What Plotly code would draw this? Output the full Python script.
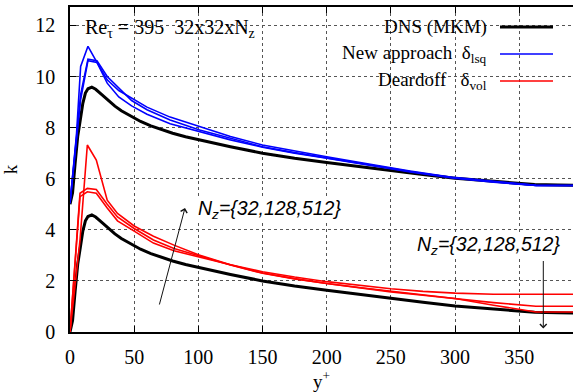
import plotly.graph_objects as go

# ---------------- data ----------------
K_OFFSET = 5.0  # upper family of curves is shifted up by 5

dns_yp = [0, 2, 4, 6, 8, 10, 12, 14, 17, 20, 25, 30, 35, 40, 47, 55, 63, 70, 80, 90,
          100, 125, 150, 175, 200, 225, 250, 275, 300, 325, 350, 362, 380, 395]
dns_k = [0, 0.45, 1.6, 2.65, 3.3, 3.95, 4.35, 4.52, 4.58, 4.5, 4.28, 4.05, 3.84, 3.66,
         3.45, 3.24, 3.07, 2.95, 2.78, 2.64, 2.52, 2.25, 2.0, 1.8, 1.63, 1.47, 1.31,
         1.16, 1.02, 0.92, 0.83, 0.77, 0.75, 0.74]

lsq_yp = [0, 5, 8.3, 14, 21, 29, 38, 48, 60, 78, 101, 125, 150, 175, 200, 234, 265,
          299, 330, 363, 395]
lsq_k_32 = [0.04, 2.7, 5.39, 6.18, 5.55, 4.87, 4.45, 4.15, 3.8, 3.41, 3.04, 2.65,
            2.32, 2.08, 1.86, 1.56, 1.3, 1.05, 0.9, 0.74, 0.73]
lsq_k_128 = [0.04, 2.6, 4.3, 5.68, 5.62, 5.0, 4.55, 4.06, 3.7, 3.3, 2.91, 2.58, 2.25,
             2.02, 1.82, 1.54, 1.28, 1.04, 0.88, 0.74, 0.73]
lsq_k_512 = [0.04, 2.5, 4.1, 5.62, 5.55, 4.74, 4.2, 3.85, 3.52, 3.15, 2.84, 2.52,
             2.23, 2.0, 1.8, 1.52, 1.26, 1.02, 0.86, 0.74, 0.73]

vol_yp = [0, 7.8, 13.5, 20.5, 29, 37, 50, 65, 81, 100, 125, 150, 175, 200, 225, 250,
          275, 300, 330, 363, 395]
vol_k_32 = [0, 3.6, 7.32, 6.73, 5.16, 4.64, 4.15, 3.75, 3.40, 3.02, 2.63, 2.31, 2.09,
            1.90, 1.74, 1.59, 1.45, 1.31, 1.05, 0.78, 0.78]
vol_k_128 = [0, 5.43, 5.62, 5.58, 5.0, 4.5, 4.05, 3.6, 3.27, 2.98, 2.62, 2.30, 2.08,
             1.90, 1.73, 1.57, 1.44, 1.31, 1.15, 1.01, 1.01]
vol_k_512 = [0, 5.3, 5.49, 5.43, 4.85, 4.35, 3.95, 3.48, 3.18, 2.93, 2.63, 2.36, 2.15,
             1.97, 1.82, 1.69, 1.59, 1.52, 1.48, 1.48, 1.48]

x_ticks = [0, 50, 100, 150, 200, 250, 300, 350]
y_ticks = [0, 2, 4, 6, 8, 10, 12]
x_range = [0, 391.9]
y_range = [0, 12.72]

legend_labels = ["DNS (MKM)", "New approach\u00a0\u00a0\u03b4<sub>lsq</sub>",
                 "Deardoff\u00a0\u00a0\u00a0\u03b4<sub>vol</sub>"]
legend_colors = ["black", "#0000ff", "#ff0000"]
legend_widths = [3, 1.6, 1.6]
title_text = "Re<sub>\u03c4</sub> = 395\u00a0\u00a032x32xN<sub>z</sub>"
nz_text = "<i>N<sub>z</sub>={32,128,512}</i>"

# ---------------- layout helpers ----------------
W, H = 573, 392
ML, MR, MT, MB = 70, 0, 7, 60
PW, PH = W - ML - MR, H - MT - MB


def px(x):
    return (x - ML) / PW


def py(y):
    return (H - MB - y) / PH


SERIF = "Liberation Serif, Times New Roman, serif"
SANS = "Liberation Sans, Arial, sans-serif"

fig = go.Figure()

fig.add_trace(go.Scatter(x=dns_yp, y=[v + K_OFFSET for v in dns_k], mode="lines",
                         line=dict(color="black", width=3), showlegend=False))
fig.add_trace(go.Scatter(x=dns_yp, y=dns_k, mode="lines",
                         line=dict(color="black", width=3), showlegend=False))
for series in (lsq_k_32, lsq_k_128, lsq_k_512):
    fig.add_trace(go.Scatter(x=lsq_yp, y=[v + K_OFFSET for v in series], mode="lines",
                             line=dict(color="#0000ff", width=1.6), showlegend=False))
for series in (vol_k_32, vol_k_128, vol_k_512):
    fig.add_trace(go.Scatter(x=vol_yp, y=series, mode="lines",
                             line=dict(color="#ff0000", width=1.6), showlegend=False))

annotations = []
shapes = []

# white key box hiding the grid
shapes.append(dict(type="rect", xref="paper", yref="paper", x0=px(288), x1=px(562),
                   y0=py(95), y1=py(8.5), fillcolor="white", line=dict(width=0),
                   layer="between"))

legend_y = [27, 54, 81]
for lab, col, wd, yy in zip(legend_labels, legend_colors, legend_widths, legend_y):
    annotations.append(dict(xref="paper", yref="paper", x=px(489), y=py(yy),
                            xanchor="right", yanchor="middle", text=lab, showarrow=False,
                            font=dict(family=SERIF, size=19, color="black")))
    shapes.append(dict(type="line", xref="paper", yref="paper", x0=px(500), x1=px(553),
                       y0=py(yy), y1=py(yy), line=dict(color=col, width=wd)))

annotations.append(dict(xref="paper", yref="paper", x=px(83), y=py(28),
                        xanchor="left", yanchor="middle", text=title_text,
                        showarrow=False, font=dict(family=SERIF, size=20, color="black")))

annotations.append(dict(xref="paper", yref="paper", x=px(197), y=py(209),
                        xanchor="left", yanchor="middle", text=nz_text, showarrow=False,
                        bgcolor="white", borderpad=0,
                        font=dict(family=SANS, size=19.5, color="black")))
annotations.append(dict(xref="paper", yref="paper", x=px(416), y=py(245),
                        xanchor="left", yanchor="middle", text=nz_text, showarrow=False,
                        bgcolor="white", borderpad=0,
                        font=dict(family=SANS, size=19.5, color="black")))

# arrows
annotations.append(dict(xref="paper", yref="paper", x=px(185), y=py(208), ax=-26, ay=98,
                        text="", showarrow=True, arrowhead=4, arrowsize=1.3,
                        arrowwidth=1, arrowcolor="#111", standoff=0, startstandoff=0))
annotations.append(dict(xref="paper", yref="paper", x=px(543.3), y=py(328.5), ax=0,
                        ay=-69, text="", showarrow=True, arrowhead=4, arrowsize=1.3,
                        arrowwidth=1, arrowcolor="#111", standoff=0, startstandoff=0))

fig.update_layout(
    width=W, height=H,
    margin=dict(l=ML, r=MR, t=MT, b=MB, pad=0, autoexpand=False),
    paper_bgcolor="white", plot_bgcolor="white",
    font=dict(family=SERIF, size=19, color="black"),
    annotations=annotations, shapes=shapes,
    showlegend=False,
)
fig.update_xaxes(
    range=x_range, tickvals=x_ticks, ticks="inside", ticklen=6, tickwidth=1,
    tickcolor="black", showline=True, linecolor="black", linewidth=1.5,
    mirror="allticks", showgrid=True, gridcolor="#555", gridwidth=1, griddash="dot",
    zeroline=False, ticklabelstandoff=6, automargin=False,
    tickfont=dict(family=SERIF, size=20, color="black"),
    title=dict(text="y<sup>+</sup>", standoff=5,
               font=dict(family=SERIF, size=19, color="black")),
)
fig.update_yaxes(
    range=y_range, tickvals=y_ticks, ticks="inside", ticklen=6, tickwidth=1,
    tickcolor="black", showline=True, linecolor="black", linewidth=1.5,
    mirror=False, showgrid=True, gridcolor="#555", gridwidth=1, griddash="dot",
    zeroline=False, ticklabelstandoff=9, automargin=False,
    tickfont=dict(family=SERIF, size=20, color="black"),
    title=dict(text="k", standoff=17,
               font=dict(family=SERIF, size=19, color="black")),
)

fig.write_html("out.html", config={"displayModeBar": False},
               post_script="document.body.style.margin='0';")
